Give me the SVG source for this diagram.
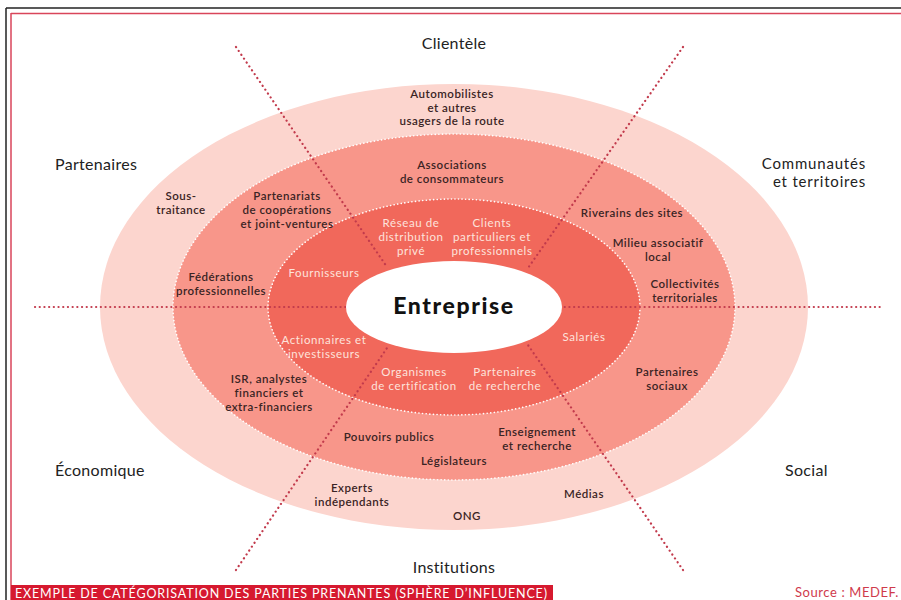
<svg xmlns="http://www.w3.org/2000/svg" width="901" height="600" viewBox="0 0 901 600">
<style>
.cat{font-family:"Lato","Open Sans",sans-serif;font-size:16px;letter-spacing:0.3px;fill:#222}
.cat2{font-family:"Lato","Open Sans",sans-serif;font-size:15px;letter-spacing:0.8px;fill:#222;text-anchor:end}
.ring{font-family:"Lato","Open Sans",sans-serif;font-size:11.5px;letter-spacing:0.5px;font-weight:600;fill:#3a2424;text-anchor:middle}
.inner{font-family:"Lato","Open Sans",sans-serif;font-size:11.5px;letter-spacing:0.6px;fill:#fde3dc;text-anchor:middle}
.dot{stroke:#c23a4c;stroke-width:2.2;stroke-dasharray:0.1 4.6;stroke-linecap:round;fill:none}
.wdot{stroke:#fff;stroke-width:1.6;stroke-dasharray:0.1 3.5;stroke-linecap:round}
</style>
<rect x="0" y="0" width="901" height="600" fill="#fff"/>
<line x1="6" y1="8" x2="901" y2="8" stroke="#222" stroke-width="1.5"/>
<line x1="6" y1="8" x2="6" y2="600" stroke="#222" stroke-width="1.5"/>
<line x1="11" y1="13.5" x2="901" y2="13.5" stroke="#d9455a" stroke-width="1.5"/>
<line x1="11" y1="13" x2="11" y2="600" stroke="#d9455a" stroke-width="1.5"/>
<g id="rings">
<ellipse id="outer" cx="454" cy="307" rx="354" ry="223" fill="#fcd5ce"/>
<ellipse id="middle" cx="454" cy="307" rx="281" ry="173" fill="#f8968a" class="wdot"/>
<ellipse id="inner" cx="454" cy="307" rx="186" ry="108" fill="#f1685b" class="wdot"/>
</g>
<g id="connectors">
<line class="dot" x1="35" y1="307" x2="350" y2="307"/>
<line class="dot" x1="560" y1="307" x2="883" y2="307"/>
<line class="dot" x1="236" y1="47" x2="387" y2="267"/>
<line class="dot" x1="236" y1="570" x2="387" y2="348"/>
<line class="dot" x1="683" y1="47" x2="528" y2="268"/>
<line class="dot" x1="683" y1="570" x2="528" y2="345"/>
</g>
<g id="entreprise">
<ellipse cx="454" cy="307" rx="108" ry="46" fill="#fff"/>
<text x="454" y="314" font-family="Lato,'Open Sans',sans-serif" font-size="23" font-weight="900" letter-spacing="1.6" fill="#111" text-anchor="middle">Entreprise</text>
</g>
<g id="categories">
<text class="cat" x="454" y="49" text-anchor="middle">Clientèle</text>
<text class="cat" x="55" y="170">Partenaires</text>
<text class="cat2" x="866" y="169">Communautés</text>
<text class="cat2" x="866" y="187">et territoires</text>
<text class="cat" x="55" y="476">Économique</text>
<text class="cat" x="785" y="476">Social</text>
<text class="cat" x="454" y="573" text-anchor="middle">Institutions</text>
</g>
<g id="ring-labels">
<text class="ring" x="452" y="98">Automobilistes</text>
<text class="ring" x="452" y="111.5">et autres</text>
<text class="ring" x="452" y="125">usagers de la route</text>
<text class="ring" x="452" y="169">Associations</text>
<text class="ring" x="452" y="183">de consommateurs</text>
<text class="ring" x="181" y="200">Sous-</text>
<text class="ring" x="181" y="214">traitance</text>
<text class="ring" x="287" y="200">Partenariats</text>
<text class="ring" x="287" y="214">de coopérations</text>
<text class="ring" x="287" y="228">et joint-ventures</text>
<text class="ring" x="221" y="281">Fédérations</text>
<text class="ring" x="221" y="295">professionnelles</text>
<text class="ring" x="632" y="217">Riverains des sites</text>
<text class="ring" x="658" y="247">Milieu associatif</text>
<text class="ring" x="658" y="261">local</text>
<text class="ring" x="685" y="288">Collectivités</text>
<text class="ring" x="685" y="302">territoriales</text>
<text class="ring" x="269" y="383">ISR, analystes</text>
<text class="ring" x="269" y="397">financiers et</text>
<text class="ring" x="269" y="411">extra-financiers</text>
<text class="ring" x="389" y="441">Pouvoirs publics</text>
<text class="ring" x="454" y="465">Législateurs</text>
<text class="ring" x="537" y="436">Enseignement</text>
<text class="ring" x="537" y="450">et recherche</text>
<text class="ring" x="667" y="376">Partenaires</text>
<text class="ring" x="667" y="390">sociaux</text>
<text class="ring" x="352" y="492">Experts</text>
<text class="ring" x="352" y="506">indépendants</text>
<text class="ring" x="584" y="498">Médias</text>
<text class="ring" x="467" y="520">ONG</text>
</g>
<g id="inner-labels">
<text class="inner" x="411" y="227">Réseau de</text>
<text class="inner" x="411" y="241">distribution</text>
<text class="inner" x="411" y="255">privé</text>
<text class="inner" x="492" y="227">Clients</text>
<text class="inner" x="492" y="241">particuliers et</text>
<text class="inner" x="492" y="255">professionnels</text>
<text class="inner" x="324" y="277">Fournisseurs</text>
<text class="inner" x="324" y="344">Actionnaires et</text>
<text class="inner" x="324" y="358">investisseurs</text>
<text class="inner" x="414" y="376">Organismes</text>
<text class="inner" x="414" y="390">de certification</text>
<text class="inner" x="505" y="376">Partenaires</text>
<text class="inner" x="505" y="390">de recherche</text>
<text class="inner" x="584" y="341">Salariés</text>
</g>
<g id="footer">
<rect x="11" y="585" width="542" height="15" fill="#d6192f"/>
<text x="15" y="597.5" font-family="Lato,'Open Sans',sans-serif" font-size="12.5" fill="#fff" textLength="532" lengthAdjust="spacing">EXEMPLE DE CATÉGORISATION DES PARTIES PRENANTES (SPHÈRE D’INFLUENCE)</text>
<text x="899" y="597" font-family="Lato,'Open Sans',sans-serif" font-size="13" letter-spacing="0.6" fill="#cf3a4c" text-anchor="end">Source : MEDEF.</text>
</g>
</svg>
